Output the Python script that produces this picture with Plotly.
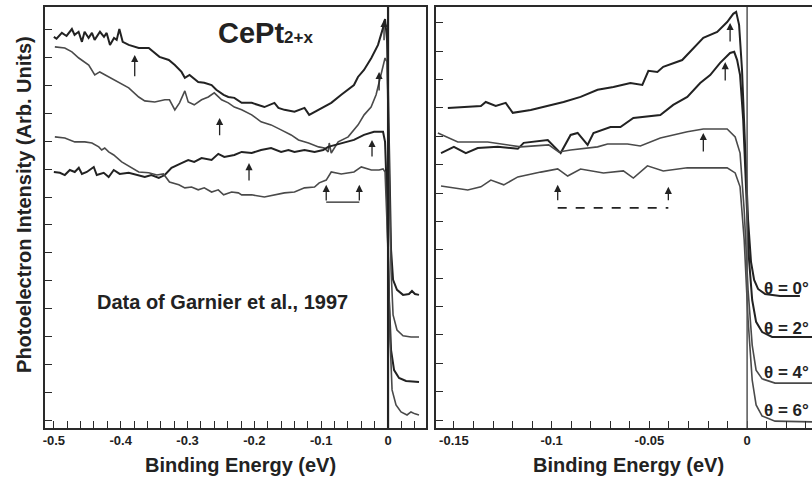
import plotly.graph_objects as go

# ---------------- data (binding energy in eV, intensity in arb. units) ----------------
# Left panel (Garnier et al., 1997)
L0_x = [-0.500,-0.496,-0.488,-0.481,-0.473,-0.469,-0.463,-0.458,-0.454,-0.448,-0.443,-0.439,-0.431,-0.425,-0.421,-0.416,-0.410,-0.406,-0.402,-0.397,-0.388,-0.373,-0.358,-0.349,-0.342,-0.328,-0.319,-0.309,-0.304,-0.297,-0.284,-0.275,-0.264,-0.257,-0.246,-0.239,-0.230,-0.219,-0.204,-0.185,-0.170,-0.164,-0.155,-0.140,-0.125,-0.118,-0.104,-0.085,-0.070,-0.051,-0.045,-0.036,-0.025,-0.015,-0.0075,-0.0045,-0.0015,0.0015,0.0045,0.0075,0.0134,0.0224,0.0313,0.0358,0.0403,0.0463]
L0_y = [13.75,13.68,13.89,13.78,14.03,13.82,13.93,13.57,13.93,13.71,13.89,13.64,13.93,13.75,13.89,13.46,13.71,13.64,14.03,13.57,13.46,13.35,13.35,13.17,13.03,12.92,12.74,12.49,12.28,12.38,12.13,12.10,12.02,11.85,11.67,11.59,11.56,11.38,11.38,11.23,11.38,11.20,11.13,11.06,11.20,10.95,11.13,11.38,11.67,12.02,12.31,12.56,12.99,13.46,14.07,14.39,13.64,9.69,6.10,5.03,4.67,4.49,4.52,4.63,4.52,4.49]

L2_x = [-0.4985,-0.4836,-0.473,-0.4627,-0.4478,-0.4388,-0.4313,-0.418,-0.403,-0.388,-0.373,-0.364,-0.349,-0.334,-0.327,-0.319,-0.312,-0.304,-0.299,-0.290,-0.279,-0.269,-0.260,-0.249,-0.239,-0.230,-0.219,-0.204,-0.190,-0.175,-0.160,-0.145,-0.134,-0.119,-0.104,-0.0955,-0.0896,-0.088,-0.085,-0.0746,-0.0597,-0.0448,-0.0358,-0.0254,-0.0179,-0.0134,-0.0075,-0.0045,-0.0015,0.0015,0.0045,0.0075,0.0134,0.0224,0.0343,0.0463]
L2_y = [13.39,13.35,13.21,12.99,12.74,12.38,12.49,12.31,12.13,11.92,11.59,11.45,11.41,11.49,11.49,11.13,11.38,11.81,11.41,11.31,11.49,11.59,11.74,11.49,11.38,11.23,11.13,10.95,10.70,10.59,10.41,10.23,10.05,9.94,9.80,9.76,9.62,9.94,9.58,9.98,10.16,10.59,10.95,11.23,11.67,12.13,12.63,12.99,12.85,8.61,5.38,3.77,3.23,3.02,2.98,2.98]

L4_x = [-0.500,-0.491,-0.4836,-0.4761,-0.4687,-0.4627,-0.458,-0.4507,-0.4403,-0.4358,-0.4254,-0.418,-0.4104,-0.4015,-0.388,-0.373,-0.364,-0.354,-0.343,-0.334,-0.324,-0.309,-0.299,-0.290,-0.279,-0.264,-0.254,-0.245,-0.230,-0.219,-0.204,-0.190,-0.175,-0.160,-0.149,-0.140,-0.125,-0.110,-0.097,-0.0896,-0.070,-0.051,-0.036,-0.021,-0.0075,-0.0045,-0.0015,0.0015,0.0045,0.009,0.0164,0.0269,0.0463]
L4_y = [8.90,8.87,8.79,8.97,8.90,9.05,8.83,8.90,9.08,8.79,8.87,8.72,8.97,8.83,8.87,8.79,8.72,8.79,8.69,8.79,9.05,9.22,9.33,9.26,9.40,9.33,9.55,9.44,9.51,9.62,9.58,9.69,9.76,9.62,9.69,9.62,9.69,9.62,9.69,9.80,9.94,10.05,10.23,10.34,10.34,9.98,7.90,4.31,2.51,1.79,1.51,1.40,1.36]

L6_x = [-0.4985,-0.4836,-0.4687,-0.4537,-0.443,-0.4328,-0.4284,-0.4239,-0.418,-0.4104,-0.3985,-0.3836,-0.373,-0.358,-0.346,-0.336,-0.327,-0.313,-0.304,-0.294,-0.284,-0.275,-0.264,-0.254,-0.246,-0.234,-0.224,-0.219,-0.204,-0.185,-0.170,-0.155,-0.140,-0.125,-0.110,-0.103,-0.0925,-0.085,-0.070,-0.058,-0.051,-0.040,-0.025,-0.0134,-0.0075,-0.0045,0.0,0.003,0.006,0.0119,0.0194,0.0284,0.0343,0.0403,0.0463]
L6_y = [10.16,10.12,9.98,9.98,9.94,9.80,9.69,9.76,9.62,9.51,9.26,9.05,8.90,8.87,8.79,8.83,8.54,8.44,8.33,8.36,8.26,8.33,8.18,8.26,8.08,8.18,8.15,8.08,8.08,8.00,8.08,8.15,8.18,8.33,8.36,8.51,8.61,8.90,8.83,8.87,8.90,9.08,8.97,8.97,9.01,8.90,6.10,2.87,1.08,0.54,0.29,0.18,0.29,0.22,0.18]

# Right panel
R0_x = [-0.1531,-0.1362,-0.1337,-0.1286,-0.1235,-0.1199,-0.1107,-0.0939,-0.0852,-0.0765,-0.0684,-0.0597,-0.0536,-0.0505,-0.0459,-0.0429,-0.0332,-0.0281,-0.0224,-0.0153,-0.0102,-0.0071,-0.0056,-0.0041,-0.0026,-0.001,0.0005,0.002,0.0036,0.0056,0.0092,0.0168,0.027]
R0_y = [11.00,11.07,11.21,11.07,11.18,10.83,10.93,11.21,11.39,11.64,11.74,11.88,11.81,12.31,12.27,12.45,12.69,13.05,13.47,13.68,14.03,14.32,14.39,13.93,12.34,9.59,7.05,5.57,4.94,4.62,4.44,4.37,4.37]

R2_x = [-0.1566,-0.150,-0.1439,-0.1378,-0.1276,-0.1173,-0.1143,-0.102,-0.0954,-0.0903,-0.0867,-0.0816,-0.0786,-0.0699,-0.0648,-0.0582,-0.0444,-0.0378,-0.0306,-0.024,-0.0189,-0.0138,-0.0087,-0.0066,-0.0051,-0.0036,-0.002,-0.0005,0.001,0.0026,0.0046,0.0077,0.0128,0.035]
R2_y = [9.41,9.63,9.41,9.59,9.63,9.56,9.77,9.87,9.41,10.05,10.12,9.70,10.12,10.33,10.33,10.65,10.75,11.11,11.39,11.88,12.16,12.59,12.94,12.98,12.69,12.16,10.58,8.11,5.64,4.23,3.46,3.10,2.93,2.93]

R4_x = [-0.1582,-0.148,-0.1327,-0.1158,-0.1015,-0.0964,-0.0903,-0.0765,-0.0714,-0.0612,-0.0546,-0.0444,-0.0306,-0.0224,-0.0102,-0.0061,-0.0036,-0.0015,0.0005,0.0026,0.0046,0.0077,0.0143,0.035]
R4_y = [10.12,9.80,9.80,9.63,9.70,9.45,9.52,9.63,9.73,9.73,9.66,9.94,10.16,10.26,10.26,9.98,9.41,7.40,4.58,2.64,1.76,1.45,1.30,1.30]

R6_x = [-0.1566,-0.1429,-0.1362,-0.1311,-0.1245,-0.1173,-0.1056,-0.0969,-0.0918,-0.0852,-0.0735,-0.0633,-0.0582,-0.051,-0.0429,-0.0306,-0.0102,-0.0061,-0.0036,-0.0015,0.0005,0.0026,0.0046,0.0077,0.0143,0.035]
R6_y = [8.25,8.11,8.22,8.46,8.29,8.57,8.74,8.85,8.60,8.85,8.71,8.78,8.53,8.96,8.78,8.89,8.89,8.71,8.22,6.35,3.53,1.41,0.53,0.14,-0.04,-0.07]

# arrows: (x, tip intensity, tail intensity)
L_arrows = [(-0.379, 13.10, 12.28), (-0.252, 10.84, 10.16), (-0.208, 9.22, 8.54),
            (-0.024, 10.05, 9.40), (-0.0134, 12.49, 11.77), (-0.006, 14.36, 13.57),
            (-0.0925, 8.44, 7.82), (-0.043, 8.44, 7.82)]
L_bracket_x = [-0.0925, -0.043]
L_bracket_y = 7.82
R_arrows = [(-0.0087, 14.00, 13.29), (-0.0112, 12.62, 11.92), (-0.0224, 10.12, 9.41),
            (-0.0969, 8.29, 7.69), (-0.0403, 8.22, 7.69)]
R_bracket_x = [-0.0969, -0.0403]
R_bracket_y = 7.48

L_ticks = [-0.5, -0.4, -0.3, -0.2, -0.1, 0]
L_ticktext = ["-0.5", "-0.4", "-0.3", "-0.2", "-0.1", "0"]
R_ticks = [-0.15, -0.1, -0.05, 0]
R_ticktext = ["-0.15", "-0.1", "-0.05", "0"]
theta_labels = ["θ = 0°", "θ = 2°", "θ = 4°", "θ = 6°"]
theta_y = [4.65, 3.24, 1.66, 0.35]

FONT = "Liberation Sans, Arial, Helvetica, sans-serif"
DARK = "#222222"
MID = "#4a4a4a"

fig = go.Figure()

left = [(L0_x, L0_y, DARK, 2.0), (L2_x, L2_y, MID, 1.6), (L4_x, L4_y, DARK, 2.0), (L6_x, L6_y, MID, 1.6)]
for xs, ys, c, w in left:
    fig.add_trace(go.Scatter(x=xs, y=ys, mode="lines", line=dict(color=c, width=w),
                             xaxis="x", yaxis="y", showlegend=False, hoverinfo="skip"))
right = [(R0_x, R0_y, DARK, 2.0), (R2_x, R2_y, DARK, 2.0), (R4_x, R4_y, MID, 1.6), (R6_x, R6_y, MID, 1.6)]
for xs, ys, c, w in right:
    fig.add_trace(go.Scatter(x=xs, y=ys, mode="lines", line=dict(color=c, width=w),
                             xaxis="x2", yaxis="y2", showlegend=False, hoverinfo="skip"))

# brackets
fig.add_trace(go.Scatter(x=L_bracket_x, y=[L_bracket_y] * 2, mode="lines",
                         line=dict(color=DARK, width=1.3), xaxis="x", yaxis="y",
                         showlegend=False, hoverinfo="skip"))
fig.add_trace(go.Scatter(x=R_bracket_x, y=[R_bracket_y] * 2, mode="lines",
                         line=dict(color=DARK, width=1.6, dash="dash"), xaxis="x2", yaxis="y2",
                         showlegend=False, hoverinfo="skip"))

annotations = []
for (ax_, xr, yr) in [(L_arrows, "x", "y"), (R_arrows, "x2", "y2")]:
    for x, tip, tail in ax_:
        annotations.append(dict(x=x, y=tip, ax=x, ay=tail, xref=xr, yref=yr, axref=xr, ayref=yr,
                                text="", showarrow=True, arrowhead=2, arrowsize=1.1,
                                arrowwidth=1.3, arrowcolor=DARK))

annotations.append(dict(x=-0.1836, y=13.89, xref="x", yref="y", showarrow=False,
                        text="<b>CePt<span style='font-size:17px'>2+x</span></b>",
                        font=dict(family=FONT, size=29, color=DARK)))
annotations.append(dict(x=-0.2478, y=4.24, xref="x", yref="y", showarrow=False,
                        text="<b>Data of Garnier et al., 1997</b>",
                        font=dict(family=FONT, size=20, color=DARK)))
for lab, ty in zip(theta_labels, theta_y):
    annotations.append(dict(x=0.0077, y=ty, xref="x2", yref="y2", showarrow=False, xanchor="left",
                            text="<b>" + lab + "</b>", font=dict(family=FONT, size=17, color=DARK)))
# axis titles
annotations.append(dict(x=239 / 812, y=1 - 465 / 481, xref="paper", yref="paper", showarrow=False,
                        xanchor="center", yanchor="middle",
                        text="<b>Binding Energy (eV)</b>", font=dict(family=FONT, size=20, color=DARK)))
annotations.append(dict(x=628 / 812, y=1 - 465 / 481, xref="paper", yref="paper", showarrow=False,
                        xanchor="center", yanchor="middle",
                        text="<b>Binding Energy (eV)</b>", font=dict(family=FONT, size=20, color=DARK)))
annotations.append(dict(x=22 / 812, y=1 - 204 / 481, xref="paper", yref="paper", showarrow=False,
                        xanchor="center", yanchor="middle",
                        textangle=-90, text="<b>Photoelectron Intensity (Arb. Units)</b>",
                        font=dict(family=FONT, size=20, color=DARK)))

shapes = [
    dict(type="line", xref="x", yref="y domain", x0=0, x1=0, y0=0, y1=1, line=dict(color=DARK, width=2.2)),
    dict(type="line", xref="x2", yref="y2 domain", x0=0, x1=0, y0=0, y1=1, line=dict(color="#555555", width=1.5)),
]

ydom = [1 - 428 / 481, 1 - 7 / 481]
axis_common = dict(showgrid=False, zeroline=False, showline=True, linecolor="#2a2a2a", linewidth=1.6,
                   ticks="inside", ticklen=7, tickwidth=1.3, tickcolor="#2a2a2a")
tickfont = dict(family=FONT, size=13, color=DARK, weight="bold")

fig.update_layout(
    width=812, height=481, margin=dict(l=0, r=0, t=0, b=0),
    paper_bgcolor="white", plot_bgcolor="white", showlegend=False,
    xaxis=dict(domain=[43 / 812, 425 / 812], range=[-0.5134, 0.0567], anchor="y", mirror=True,
               tickmode="array", tickvals=L_ticks, ticktext=L_ticktext, tickfont=tickfont,
               minor=dict(tickmode="linear", tick0=0, dtick=0.02, ticks="inside", ticklen=7,
                          tickwidth=1.3, tickcolor="#2a2a2a"),
               **axis_common),
    yaxis=dict(domain=ydom, range=[-0.287, 14.82], anchor="x", mirror=True, tick0=0, dtick=1,
               showticklabels=False, **axis_common),
    xaxis2=dict(domain=[435 / 812, 1.0], range=[-0.1592, 0.0332], anchor="y2", mirror=True,
                tickmode="array", tickvals=R_ticks, ticktext=R_ticktext, tickfont=tickfont,
                minor=dict(tickmode="linear", tick0=0, dtick=0.01, ticks="inside", ticklen=7,
                           tickwidth=1.3, tickcolor="#2a2a2a"),
                **axis_common),
    yaxis2=dict(domain=ydom, range=[-0.282, 14.56], anchor="x2", mirror=False, tick0=0, dtick=1,
                showticklabels=False, **axis_common),
    annotations=annotations, shapes=shapes,
)

fig.write_html("out.html")
